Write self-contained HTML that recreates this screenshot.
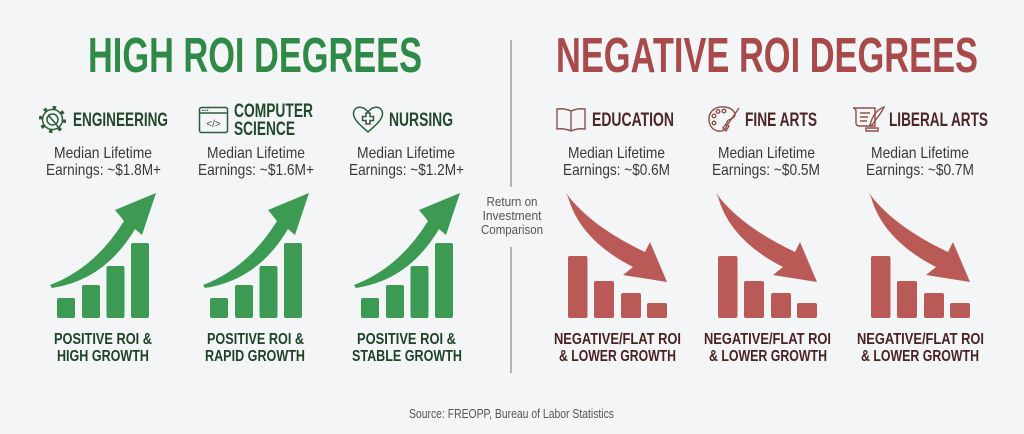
<!DOCTYPE html>
<html><head><meta charset="utf-8"><style>
html,body{margin:0;padding:0;background:#f3f5f7;}
svg{display:block;}
text{font-family:"Liberation Sans",sans-serif;}
</style></head><body>
<svg width="1024" height="434" viewBox="0 0 1024 434" xmlns="http://www.w3.org/2000/svg">
<rect width="1024" height="434" fill="#f3f5f7"/>

<!-- Titles -->
<text x="88" y="72" font-size="49" font-weight="bold" fill="#2f8a47" textLength="334" lengthAdjust="spacingAndGlyphs">HIGH ROI DEGREES</text>
<text x="556" y="72" font-size="49" font-weight="bold" fill="#a84a4a" textLength="422" lengthAdjust="spacingAndGlyphs">NEGATIVE ROI DEGREES</text>

<!-- Divider -->
<line x1="511" y1="40" x2="511" y2="187" stroke="#9b9d9f" stroke-width="1.5"/>
<line x1="511" y1="247" x2="511" y2="373" stroke="#9b9d9f" stroke-width="1.5"/>
<g font-size="12.5" fill="#555" text-anchor="middle">
<text x="512" y="206" textLength="51" lengthAdjust="spacingAndGlyphs">Return on</text>
<text x="512" y="220" textLength="59" lengthAdjust="spacingAndGlyphs">Investment</text>
<text x="512" y="234" textLength="62" lengthAdjust="spacingAndGlyphs">Comparison</text>
</g>

<!-- Green headings -->
<g font-size="19" font-weight="bold" fill="#23492c">
<text x="73" y="126" textLength="95" lengthAdjust="spacingAndGlyphs">ENGINEERING</text>
<text x="234" y="117" textLength="79" lengthAdjust="spacingAndGlyphs">COMPUTER</text>
<text x="234" y="135" textLength="61" lengthAdjust="spacingAndGlyphs">SCIENCE</text>
<text x="389" y="126" textLength="64" lengthAdjust="spacingAndGlyphs">NURSING</text>
</g>
<!-- Red headings -->
<g font-size="19" font-weight="bold" fill="#4e2626">
<text x="592" y="126" textLength="82" lengthAdjust="spacingAndGlyphs">EDUCATION</text>
<text x="745" y="126" textLength="72" lengthAdjust="spacingAndGlyphs">FINE ARTS</text>
<text x="889" y="126" textLength="99" lengthAdjust="spacingAndGlyphs">LIBERAL ARTS</text>
</g>

<!-- Icons green -->
<g fill="none" stroke="#2f5c3a" stroke-width="1.5">
  <circle cx="52.5" cy="119.5" r="10"/>
  <circle cx="52.5" cy="119.5" r="12" stroke-width="3.2" stroke-dasharray="3.4 6"/>
  <circle cx="52.5" cy="119.5" r="5.5"/>
  <path d="M49,116 L56,124 M47,118 L50,114 M56,124 L58,127"/>
  <rect x="199.5" y="107.5" width="28" height="25" rx="2"/>
  <line x1="199.5" y1="113" x2="227.5" y2="113"/>
  <path d="M353.5,113 C354,106 363,105 368,112 C373,105 382,106 382.5,113 C383,119 376,125 368,132 C360,125 353,119 353.5,113 Z"/>
  <path d="M366,113 h4 v3.5 h3.5 v4 h-3.5 v3.5 h-4 v-3.5 h-3.5 v-4 h3.5 Z"/>
</g>
<g fill="#2f5c3a"><circle cx="202.5" cy="110.3" r="0.8"/><circle cx="205" cy="110.3" r="0.8"/><circle cx="207.5" cy="110.3" r="0.8"/></g>
<text x="213.5" y="127" font-size="10" fill="#2f5c3a" text-anchor="middle" font-family="Liberation Mono">&lt;/&gt;</text>

<!-- Icons red -->
<g fill="none" stroke="#8f504d" stroke-width="1.4">
  <path d="M571,111 Q564,108 557,109 L557,129 Q564,128 571,131 Q578,128 585,129 L585,109 Q578,108 571,111 Z"/>
  <line x1="571" y1="111" x2="571" y2="131"/>
  <path d="M709,119 C709,110 717,106 725,107 C733,108 737,114 734,117 C731,120 727,119 727,123 C727,128 724,132 718,131 C712,130 709,125 709,119 Z"/>
  <circle cx="714" cy="116" r="1.8"/><circle cx="718" cy="111.5" r="1.8"/><circle cx="724" cy="111" r="1.8"/><circle cx="714" cy="123" r="1.8"/>
  <path d="M739,108 L728,124 M726,124 L729,126 L726,131 L723,128 Z"/>
  <path d="M853,108 h22 v18 h-16 a3,3 0 0 1 -3,-3 v-12 a3,3 0 0 0 -3,-3 Z"/>
  <path d="M860,113 h10 M860,117 h8 M860,121 h7"/>
  <path d="M884,107 C876,110 872,117 870,125 L872,125 C876,119 881,114 884,107 Z"/>
  <path d="M866,128 h12 v3 h-12 Z"/>
</g>

<!-- Median text -->
<g font-size="16" fill="#3a3a3a" text-anchor="middle">
<text x="103" y="158" textLength="98" lengthAdjust="spacingAndGlyphs">Median Lifetime</text>
<text x="103.5" y="175" textLength="115" lengthAdjust="spacingAndGlyphs">Earnings: ~$1.8M+</text>
<text x="256" y="158" textLength="98" lengthAdjust="spacingAndGlyphs">Median Lifetime</text>
<text x="256" y="175" textLength="116" lengthAdjust="spacingAndGlyphs">Earnings: ~$1.6M+</text>
<text x="406" y="158" textLength="98" lengthAdjust="spacingAndGlyphs">Median Lifetime</text>
<text x="406.5" y="175" textLength="115" lengthAdjust="spacingAndGlyphs">Earnings: ~$1.2M+</text>
<text x="616.5" y="158" textLength="97" lengthAdjust="spacingAndGlyphs">Median Lifetime</text>
<text x="616.5" y="175" textLength="107" lengthAdjust="spacingAndGlyphs">Earnings: ~$0.6M</text>
<text x="766.5" y="158" textLength="97" lengthAdjust="spacingAndGlyphs">Median Lifetime</text>
<text x="766" y="175" textLength="108" lengthAdjust="spacingAndGlyphs">Earnings: ~$0.5M</text>
<text x="920" y="158" textLength="98" lengthAdjust="spacingAndGlyphs">Median Lifetime</text>
<text x="920" y="175" textLength="108" lengthAdjust="spacingAndGlyphs">Earnings: ~$0.7M</text>
</g>

<!-- Charts -->
<defs>
<g id="gchart">
  <rect x="57" y="298" width="18" height="20" rx="2"/>
  <rect x="82" y="285" width="18" height="33" rx="2"/>
  <rect x="106.5" y="266" width="18" height="52" rx="2"/>
  <rect x="131" y="243" width="18" height="75" rx="2"/>
  <path d="M50,285 Q95,268 124,221 L115,210 L156,193 L142,235 L135,229 Q105,280 52,288 Z"/>
</g>
<g id="rchart">
  <rect x="568" y="256" width="19.5" height="62" rx="2"/>
  <rect x="594" y="281" width="20" height="37" rx="2"/>
  <rect x="621" y="293" width="20" height="25" rx="2"/>
  <rect x="647" y="303" width="20" height="15" rx="2"/>
  <path d="M566,193 Q590,226 645,252 L650,242 L667,282 L623,275 L633,267 Q580,240 568,197 Z"/>
</g>
</defs>
<g fill="#3d9a52">
  <use href="#gchart"/>
  <use href="#gchart" transform="translate(153,0)"/>
  <use href="#gchart" transform="translate(304,0)"/>
</g>
<g fill="#ba5a57">
  <use href="#rchart"/>
  <use href="#rchart" transform="translate(150,0)"/>
  <use href="#rchart" transform="translate(303,0)"/>
</g>

<!-- Bottom labels -->
<g font-size="16" font-weight="bold" fill="#1f4228" text-anchor="middle">
<text x="103" y="344" textLength="98" lengthAdjust="spacingAndGlyphs">POSITIVE ROI &amp;</text>
<text x="103" y="361" textLength="92" lengthAdjust="spacingAndGlyphs">HIGH GROWTH</text>
<text x="255.5" y="344" textLength="97" lengthAdjust="spacingAndGlyphs">POSITIVE ROI &amp;</text>
<text x="255" y="361" textLength="100" lengthAdjust="spacingAndGlyphs">RAPID GROWTH</text>
<text x="406.5" y="344" textLength="99" lengthAdjust="spacingAndGlyphs">POSITIVE ROI &amp;</text>
<text x="407" y="361" textLength="110" lengthAdjust="spacingAndGlyphs">STABLE GROWTH</text>
</g>
<g font-size="16" font-weight="bold" fill="#4a2222" text-anchor="middle">
<text x="617.5" y="344" textLength="127" lengthAdjust="spacingAndGlyphs">NEGATIVE/FLAT ROI</text>
<text x="617.5" y="361" textLength="117" lengthAdjust="spacingAndGlyphs">&amp; LOWER GROWTH</text>
<text x="767.5" y="344" textLength="127" lengthAdjust="spacingAndGlyphs">NEGATIVE/FLAT ROI</text>
<text x="768" y="361" textLength="118" lengthAdjust="spacingAndGlyphs">&amp; LOWER GROWTH</text>
<text x="920.5" y="344" textLength="127" lengthAdjust="spacingAndGlyphs">NEGATIVE/FLAT ROI</text>
<text x="920" y="361" textLength="118" lengthAdjust="spacingAndGlyphs">&amp; LOWER GROWTH</text>
</g>

<!-- Source -->
<text x="511.5" y="418" font-size="12.5" fill="#555" text-anchor="middle" textLength="205" lengthAdjust="spacingAndGlyphs">Source: FREOPP, Bureau of Labor Statistics</text>
</svg>
</body></html>
